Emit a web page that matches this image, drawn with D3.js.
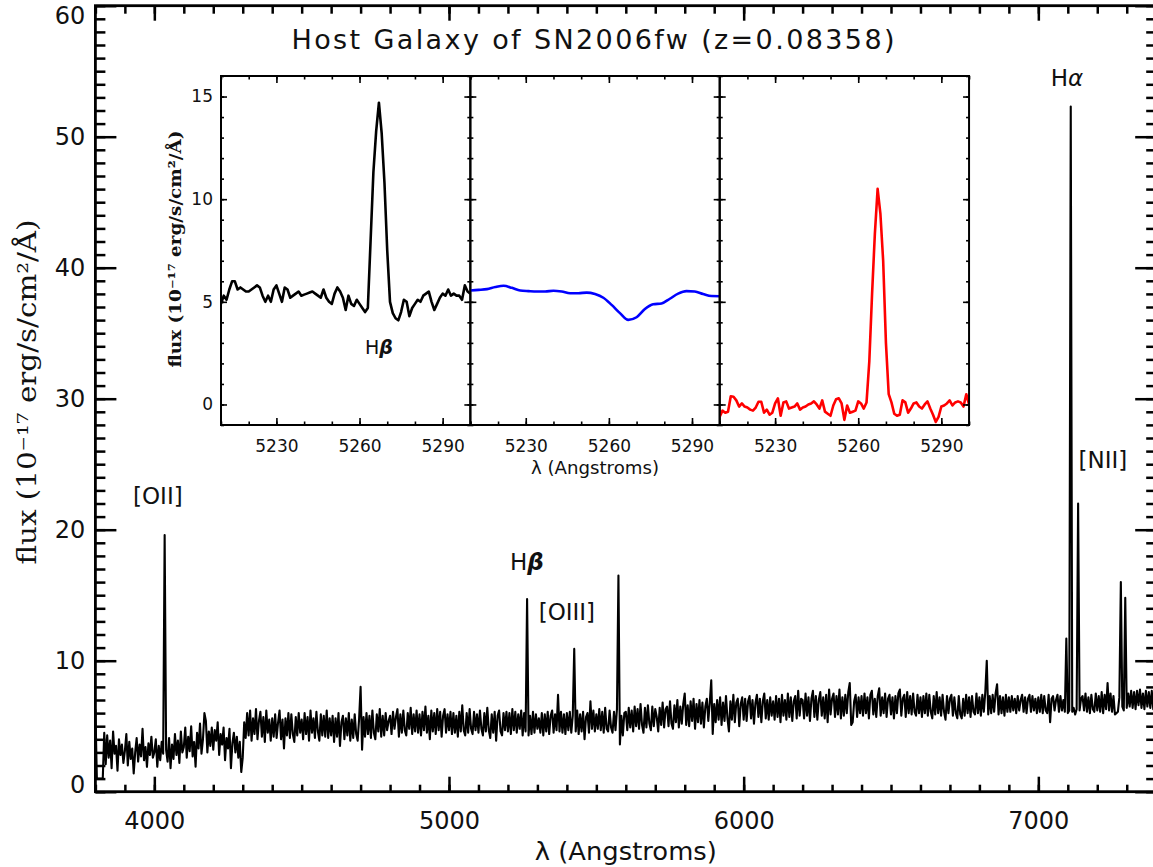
<!DOCTYPE html>
<html><head><meta charset="utf-8">
<script src="https://cdn.jsdelivr.net/npm/d3@7"></script>
<style>body{margin:0;background:#fff}svg{display:block}</style>
</head><body>
<svg id="chart" width="1153" height="867"></svg>
<script>
// ---------- DATA ----------
const specStart = 3800, specStep = 5; // wavelength grid (Angstrom)
const specFlux = [
 6.3,1.0,1.0,1.0,1.0,1.0,4.5,2.1,4.3,2.6,3.9,1.8,4.6,2.9,3.5,1.6,4.0,2.8,3.6,2.2,
 3.1,4.4,2.0,3.8,2.5,3.3,1.4,3.0,4.1,2.3,3.6,2.7,4.8,2.4,3.4,1.9,3.7,2.8,4.2,2.6,
 3.0,4.0,1.9,3.5,2.4,3.8,2.9,19.6,3.2,2.3,4.1,1.8,3.6,2.5,4.4,2.8,3.9,2.2,4.6,3.0,
 3.4,4.9,2.6,4.2,3.1,5.0,2.7,3.8,1.9,4.5,3.3,5.2,2.9,4.0,6.0,5.4,3.0,4.6,3.5,4.9,
 3.2,4.7,3.9,5.3,2.8,4.4,3.6,4.9,2.4,4.1,3.3,4.8,1.8,3.7,4.5,3.0,4.2,2.6,3.8,1.5,
 2.6,5.3,4.1,6.0,4.3,6.2,3.9,5.6,4.4,6.3,4.0,5.4,6.1,4.2,5.7,3.8,6.2,4.5,5.5,3.9,
 5.6,4.2,5.9,4.1,5.3,6.2,4.0,5.5,3.3,5.6,4.3,6.0,4.1,5.9,4.4,3.8,5.7,4.3,6.0,4.5,
 5.5,4.0,6.0,4.4,5.7,3.9,6.2,4.5,5.6,4.1,6.1,4.6,3.9,5.9,4.3,5.8,4.2,6.2,4.1,5.6,
 4.3,5.8,3.8,5.6,4.2,6.0,3.5,5.3,5.8,4.0,5.6,4.3,6.0,3.9,5.5,4.1,5.9,4.4,3.9,5.6,
 8.0,3.2,5.7,4.2,6.0,4.4,5.8,4.1,6.2,4.5,4.0,5.9,4.6,6.3,4.2,5.8,4.3,6.0,4.7,5.4,
 5.8,4.4,6.1,4.8,5.7,6.3,4.2,5.9,4.5,6.2,4.7,4.3,6.0,4.8,6.4,4.4,5.9,4.6,6.2,4.5,
 5.9,4.3,6.1,4.7,6.5,4.5,5.8,4.0,6.2,4.6,6.0,4.4,6.3,4.7,6.1,4.2,5.8,6.3,4.5,5.9,
 4.7,6.1,4.4,6.0,4.5,5.8,4.2,6.1,4.6,6.6,4.7,4.3,6.0,4.5,6.3,4.8,4.4,6.1,4.7,5.9,
 4.5,6.2,4.8,4.3,6.0,4.6,6.4,4.7,4.1,5.9,4.5,6.1,3.9,5.8,6.2,4.6,4.3,6.0,4.7,6.1,
 4.6,6.0,4.4,6.3,4.7,6.1,4.5,5.9,4.8,6.2,4.3,6.0,4.6,14.7,4.3,5.8,4.4,6.1,4.5,5.9,
 4.8,5.6,4.5,6.0,4.3,5.9,4.6,6.1,4.4,5.8,6.2,4.5,5.9,4.7,7.4,4.6,6.1,4.5,5.9,4.4,
 6.0,4.7,6.1,4.5,5.8,10.9,4.6,6.2,4.4,5.9,4.6,6.1,4.0,5.7,6.0,4.5,6.9,4.8,6.2,4.6,
 5.9,4.8,6.3,4.7,6.1,4.5,6.4,4.8,4.6,6.2,4.9,4.5,6.1,4.7,6.3,16.5,3.6,5.8,4.3,6.0,
 6.1,4.7,6.4,4.9,6.2,4.6,6.5,5.0,6.3,4.8,6.7,5.1,4.5,6.4,4.9,6.6,5.2,4.7,6.5,5.0,
 6.3,5.7,4.6,6.4,5.1,6.8,4.9,6.3,6.5,5.0,6.9,5.2,4.8,6.6,5.3,7.0,4.9,6.5,5.2,6.7,
 7.5,5.1,6.6,5.0,6.9,5.4,7.1,4.8,6.7,5.3,7.0,5.2,6.8,4.9,6.5,7.1,5.4,6.8,8.5,4.4,
 6.7,5.3,7.0,5.5,7.2,5.1,6.8,5.4,7.3,5.6,4.6,6.9,5.5,7.4,5.3,6.8,7.1,5.0,6.7,7.2,
 5.5,7.1,5.4,6.9,7.3,5.6,7.0,5.2,6.8,7.4,5.7,7.1,5.3,6.9,7.5,5.6,7.0,5.5,7.2,5.8,
 6.9,5.5,7.3,5.7,7.1,5.3,7.4,5.8,7.0,5.5,7.5,5.7,7.2,5.4,6.9,7.3,5.6,7.7,5.8,7.1,
 7.0,5.6,7.5,5.8,7.2,5.4,7.1,7.7,5.7,7.3,5.5,7.0,7.6,5.8,7.2,5.6,7.4,5.3,7.8,5.9,
 7.1,7.5,5.7,7.3,5.9,7.8,5.6,7.2,5.8,7.4,6.0,7.6,8.3,5.1,5.3,6.9,7.4,5.7,7.2,6.0,
 7.3,5.8,7.5,6.0,7.2,5.6,7.4,7.7,5.9,7.1,5.7,7.3,7.9,5.8,7.2,6.0,7.5,5.7,7.1,7.4,
 5.9,7.2,5.6,7.3,6.0,7.5,7.8,5.8,7.1,7.4,5.7,7.6,6.0,7.3,5.9,7.5,6.1,5.8,7.4,6.0,
 7.2,5.7,7.3,6.0,7.5,5.8,7.4,6.1,5.6,7.3,5.9,7.6,6.0,7.2,5.8,7.4,6.1,5.5,7.3,6.0,
 7.1,7.4,5.8,7.2,6.0,5.6,7.3,5.9,5.6,7.1,5.8,7.4,6.0,7.2,5.7,7.3,6.1,5.9,7.5,6.0,
 7.2,5.8,7.4,6.1,7.6,10.0,5.9,7.3,6.0,7.4,6.1,7.5,8.2,5.9,7.3,6.0,7.2,5.8,7.4,6.1,
 7.2,6.1,7.3,6.2,7.1,6.0,7.3,6.2,7.0,7.4,6.1,7.2,6.0,7.1,7.4,6.1,7.3,6.2,7.1,6.0,
 7.2,6.1,7.4,6.0,7.3,6.2,6.0,7.4,5.3,7.1,7.3,6.2,7.0,7.4,6.1,7.3,6.2,7.0,6.1,11.7,
 6.0,6.2,52.3,6.1,6.4,5.9,6.3,22.0,6.2,7.1,7.3,6.2,7.5,6.1,7.2,6.0,7.4,6.3,6.1,7.5,
 6.2,7.3,6.1,7.6,6.0,7.4,6.3,8.3,6.2,7.5,6.1,7.3,5.9,6.0,6.1,7.2,16.0,6.5,6.2,14.8,
 6.4,7.5,6.5,7.7,6.4,7.6,6.3,7.7,6.6,7.8,6.4,7.5,6.3,7.7,6.5,7.6,6.4,7.7,6.3,7.5,6.9
];
const xTicksMain = [4000, 5000, 6000, 7000];
const yTicksMain = [0, 10, 20, 30, 40, 50, 60];

// inset (zoom on H-beta)
const insetStart = 5210, insetStep = 1;
const insetObserved = [
 4.9,5.3,5.1,5.6,6.0,6.0,5.6,5.7,5.6,5.5,
 5.5,5.6,5.7,5.8,5.7,5.3,5.0,5.3,5.0,5.6,
 5.8,5.4,5.0,5.7,5.6,5.2,5.3,5.4,5.5,5.3,
 5.35,5.4,5.45,5.5,5.4,5.3,5.2,5.6,5.2,5.0,
 4.9,5.4,5.7,5.5,5.2,4.6,5.3,4.9,4.8,5.1,
 4.9,4.7,4.5,4.7,8.0,11.3,13.3,14.7,13.2,10.8,
 7.5,5.0,4.45,4.2,4.1,4.5,5.1,5.0,4.3,4.7,
 4.9,5.1,5.0,5.3,5.4,5.5,5.0,4.6,4.9,5.2,
 5.4,5.3,5.6,5.3,5.4,5.3,5.3,5.1,5.8,5.5,5.4
];
const modelLam = [5210,5213,5216,5219,5222,5225,5228,5231,5234,5237,5240,5243,5246,5249,5252,5255,5258,5261,5264,5267,5270,5273,5276,5279,5282,5285,5288,5291,5294,5297,5300];
const modelFlux = [5.55,5.58,5.62,5.72,5.78,5.68,5.55,5.52,5.50,5.50,5.54,5.50,5.42,5.42,5.45,5.38,5.20,4.85,4.45,4.12,4.25,4.65,4.88,4.92,5.15,5.40,5.52,5.50,5.38,5.28,5.27];
const insetResidual = [
 -0.6,-0.3,-0.4,-0.35,0.4,0.38,0.2,-0.1,0.05,-0.1,
 -0.15,-0.25,-0.3,-0.15,0.13,0.13,-0.4,-0.25,-0.5,-0.4,
 0.05,0.3,-0.55,0.1,0.15,-0.2,-0.15,-0.1,0.05,-0.25,
 -0.15,-0.1,0.0,0.05,0.15,0.0,-0.2,0.2,-0.35,-0.45,
 -0.55,-0.05,0.25,0.3,0.05,-0.75,-0.05,-0.4,-0.35,-0.3,
 0.15,0.05,-0.2,0.1,2.1,5.4,8.3,10.5,9.3,7.0,
 3.0,0.5,0.1,-0.45,-0.55,-0.5,0.2,0.1,-0.4,-0.2,
 0.05,0.1,-0.1,-0.2,0.0,0.15,-0.2,-0.5,-0.85,-0.6,
 -0.1,-0.05,0.05,0.2,-0.05,0.1,0.15,0.1,-0.1,0.5,0.0
];
const insetXTicks = [5230, 5260, 5290];
const insetYTicks = [0, 5, 10, 15];

// line annotations (wavelength, flux position of label centre)
const lineLabels = [
  {name: "[OII]",  lam: 4012, flux: 22.6},
  {name: "Hβ",     lam: 5264, flux: 17.5},
  {name: "[OIII]", lam: 5400, flux: 13.7},
  {name: "Hα",     lam: 7097, flux: 54.5},
  {name: "[NII]",  lam: 7219, flux: 25.3}
];

// ---------- DRAW ----------
const svg = d3.select("#chart");
const FONT = "DejaVu Sans, Verdana, sans-serif";
const SERIF = "DejaVu Serif, serif";
const M = {left: 95.4, right: 1156.2, top: 5.7, bottom: 791.7};
const x = d3.scaleLinear().domain([3800, 7400]).range([M.left, M.right]);
const y = d3.scaleLinear().domain([0, 60]).range([M.bottom, M.top]);

svg.append("rect").attr("width", 1153).attr("height", 867).attr("fill", "#fff");

svg.append("clipPath").attr("id", "mainClip").append("rect")
  .attr("x", M.left).attr("y", M.top).attr("width", M.right - M.left).attr("height", M.bottom - M.top);

const specData = specFlux.map((f, i) => ({lam: specStart + i * specStep, f}));
svg.append("path").datum(specData)
  .attr("clip-path", "url(#mainClip)")
  .attr("fill", "none").attr("stroke", "#000").attr("stroke-width", 2.1)
  .attr("stroke-linejoin", "round")
  .attr("d", d3.line().x(d => x(d.lam)).y(d => y(d.f)));

function styleAxis(g, fs, sw) {
  g.select(".domain").remove();
  g.selectAll("line").attr("stroke", "#000").attr("stroke-width", sw);
  g.selectAll("text").attr("font-family", FONT).attr("font-size", fs).attr("fill", "#111");
}
const minorX = d3.range(3800, 7401, 100);
const minorY = d3.range(0, 61, 1);

// bottom
svg.append("g").attr("transform", `translate(0,${M.bottom})`)
  .call(d3.axisBottom(x).tickValues(minorX).tickSize(-7).tickFormat(""))
  .call(g => styleAxis(g, 24, 2.5));
svg.append("g").attr("transform", `translate(0,${M.bottom})`)
  .call(d3.axisBottom(x).tickValues(xTicksMain).tickSize(-15).tickPadding(20).tickFormat(d3.format("d")))
  .call(g => styleAxis(g, 24, 2.5));
// top
svg.append("g").attr("transform", `translate(0,${M.top})`)
  .call(d3.axisTop(x).tickValues(minorX).tickSize(-8).tickFormat(""))
  .call(g => styleAxis(g, 24, 2.5));
svg.append("g").attr("transform", `translate(0,${M.top})`)
  .call(d3.axisTop(x).tickValues(xTicksMain).tickSize(-15).tickFormat(""))
  .call(g => styleAxis(g, 24, 2.5));
// left
svg.append("g").attr("transform", `translate(${M.left},0)`)
  .call(d3.axisLeft(y).tickValues(minorY).tickSize(-10).tickFormat(""))
  .call(g => styleAxis(g, 24, 2.5));
const yl = svg.append("g").attr("transform", `translate(${M.left},0)`)
  .call(d3.axisLeft(y).tickValues(yTicksMain).tickSize(-21).tickPadding(10).tickFormat(d3.format("d")))
  .call(g => styleAxis(g, 24, 2.5));
yl.selectAll(".tick text").attr("dy", d => d === 60 ? "0.74em" : (d === 0 ? "0.03em" : "0.32em"));
// right
svg.append("g").attr("transform", `translate(${M.right},0)`)
  .call(d3.axisRight(y).tickValues(minorY).tickSize(-10).tickFormat(""))
  .call(g => styleAxis(g, 24, 2.5));
svg.append("g").attr("transform", `translate(${M.right},0)`)
  .call(d3.axisRight(y).tickValues(yTicksMain).tickSize(-21).tickFormat(""))
  .call(g => styleAxis(g, 24, 2.5));
// frame
svg.append("rect").attr("x", M.left).attr("y", M.top)
  .attr("width", M.right - M.left).attr("height", M.bottom - M.top)
  .attr("fill", "none").attr("stroke", "#000").attr("stroke-width", 2.8);

// axis titles
svg.append("text").attr("x", (M.left + M.right) / 2).attr("y", 860)
  .attr("text-anchor", "middle").attr("font-family", FONT).attr("font-size", 24).attr("fill", "#111")
  .attr("textLength", 182).attr("lengthAdjust", "spacingAndGlyphs")
  .text("λ (Angstroms)");
svg.append("text").attr("transform", "translate(36,392) rotate(-90)")
  .attr("text-anchor", "middle").attr("font-family", SERIF).attr("font-size", 26).attr("fill", "#111")
  .attr("textLength", 345).attr("lengthAdjust", "spacingAndGlyphs")
  .text("flux (10⁻¹⁷ erg/s/cm²/Å)");

// title
svg.append("text").attr("x", 593).attr("y", 49)
  .attr("text-anchor", "middle").attr("font-family", FONT).attr("font-size", 27).attr("fill", "#111")
  .attr("textLength", 603).attr("lengthAdjust", "spacing")
  .text("Host Galaxy of SN2006fw (z=0.08358)");

// line labels
lineLabels.forEach(L => {
  const t = svg.append("text").attr("x", x(L.lam)).attr("y", y(L.flux))
    .attr("text-anchor", "middle").attr("dominant-baseline", "central")
    .attr("font-family", FONT).attr("font-size", 23).attr("fill", "#111");
  if (L.name === "Hβ") {
    t.append("tspan").text("H");
    t.append("tspan").attr("font-weight", "bold").attr("font-style", "italic").text("β");
  } else if (L.name === "Hα") {
    t.append("tspan").text("H");
    t.append("tspan").attr("font-style", "italic").text("α");
  } else t.text(L.name);
});

// ---------- INSET ----------
const IN = {left: 221, top: 76, bottom: 425, pw: 249.35};
const iy = d3.scaleLinear().domain([-1, 16]).range([IN.bottom, IN.top]);
svg.append("rect").attr("x", IN.left).attr("y", IN.top).attr("width", IN.pw * 3).attr("height", IN.bottom - IN.top).attr("fill", "#fff");

const insetSeries = [
  {data: insetObserved.map((f, i) => ({lam: insetStart + i * insetStep, f})), color: "#000", curve: d3.curveLinear},
  {data: modelFlux.map((f, i) => ({lam: modelLam[i], f})), color: "#0000ff", curve: d3.curveMonotoneX},
  {data: insetResidual.map((f, i) => ({lam: insetStart + i * insetStep, f})), color: "#ff0000", curve: d3.curveLinear}
];
const iMinorX = d3.range(5210, 5301, 10);
const iMinorY = d3.range(-1, 17, 1);

insetSeries.forEach((s, p) => {
  const x0 = IN.left + p * IN.pw, x1 = x0 + IN.pw;
  const ix = d3.scaleLinear().domain([5210, 5300]).range([x0, x1]);
  svg.append("clipPath").attr("id", "ic" + p).append("rect")
    .attr("x", x0).attr("y", IN.top).attr("width", IN.pw).attr("height", IN.bottom - IN.top);
  svg.append("path").datum(s.data).attr("clip-path", `url(#ic${p})`)
    .attr("fill", "none").attr("stroke", s.color).attr("stroke-width", 2.6).attr("stroke-linejoin", "round")
    .attr("d", d3.line().curve(s.curve).x(d => ix(d.lam)).y(d => iy(d.f)));

  const sw = 1.6;
  svg.append("g").attr("transform", `translate(0,${IN.bottom})`)
    .call(d3.axisBottom(ix).tickValues(iMinorX).tickSize(-3.5).tickFormat("")).call(g => styleAxis(g, 17, sw));
  svg.append("g").attr("transform", `translate(0,${IN.bottom})`)
    .call(d3.axisBottom(ix).tickValues(insetXTicks).tickSize(-7).tickPadding(15).tickFormat(d3.format("d")))
    .call(g => styleAxis(g, 17, sw));
  svg.append("g").attr("transform", `translate(0,${IN.top})`)
    .call(d3.axisTop(ix).tickValues(iMinorX).tickSize(-3.5).tickFormat("")).call(g => styleAxis(g, 17, sw));
  svg.append("g").attr("transform", `translate(0,${IN.top})`)
    .call(d3.axisTop(ix).tickValues(insetXTicks).tickSize(-7).tickFormat("")).call(g => styleAxis(g, 17, sw));
  svg.append("g").attr("transform", `translate(${x0},0)`)
    .call(d3.axisLeft(iy).tickValues(iMinorY).tickSize(-3).tickFormat("")).call(g => styleAxis(g, 17, sw));
  svg.append("g").attr("transform", `translate(${x0},0)`)
    .call(d3.axisLeft(iy).tickValues(insetYTicks).tickSize(-6).tickPadding(8).tickFormat(p === 0 ? d3.format("d") : ""))
    .call(g => styleAxis(g, 17, sw));
  svg.append("g").attr("transform", `translate(${x1},0)`)
    .call(d3.axisRight(iy).tickValues(iMinorY).tickSize(-3).tickFormat("")).call(g => styleAxis(g, 17, sw));
  svg.append("g").attr("transform", `translate(${x1},0)`)
    .call(d3.axisRight(iy).tickValues(insetYTicks).tickSize(-6).tickFormat("")).call(g => styleAxis(g, 17, sw));
  svg.append("rect").attr("x", x0).attr("y", IN.top).attr("width", IN.pw).attr("height", IN.bottom - IN.top)
    .attr("fill", "none").attr("stroke", "#000").attr("stroke-width", 2);

  if (p === 0) {
    const t = svg.append("text").attr("x", ix(5267)).attr("y", iy(2.8))
      .attr("text-anchor", "middle").attr("dominant-baseline", "central")
      .attr("font-family", FONT).attr("font-size", 19).attr("fill", "#111");
    t.append("tspan").text("H");
    t.append("tspan").attr("font-weight", "bold").attr("font-style", "italic").text("β");
  }
});

svg.append("text").attr("x", IN.left + IN.pw * 1.5).attr("y", 474)
  .attr("text-anchor", "middle").attr("font-family", FONT).attr("font-size", 17).attr("fill", "#111")
  .attr("textLength", 128).attr("lengthAdjust", "spacingAndGlyphs")
  .text("λ (Angstroms)");
svg.append("text").attr("transform", "translate(181,249) rotate(-90)")
  .attr("text-anchor", "middle").attr("font-family", SERIF).attr("font-weight", "bold").attr("font-size", 17).attr("fill", "#111")
  .attr("textLength", 237).attr("lengthAdjust", "spacingAndGlyphs")
  .text("flux (10⁻¹⁷ erg/s/cm²/Å)");
</script>
</body></html>
